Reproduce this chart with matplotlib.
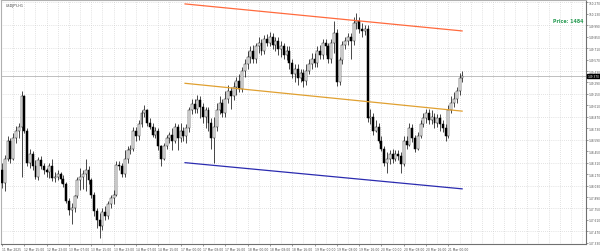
import numpy as np
import matplotlib.pyplot as plt

# USDJPY H1 candles (one value per bar)
symbol = 'USDJPY,H1'
opens = [148.22, 148.06, 148.36, 148.57, 148.36, 148.61, 148.70, 148.75, 149.12, 148.70,
         148.30, 148.42, 148.27, 148.14, 148.34, 148.27, 148.22, 148.19, 148.27, 148.12,
         148.14, 148.17, 148.11, 148.05, 147.84, 147.73, 147.75, 147.90, 148.10, 148.14,
         148.17, 148.22, 148.10, 147.91, 147.72, 147.61, 147.54, 147.71, 147.66, 147.80,
         147.88, 147.92, 148.28, 148.27, 148.17, 148.36, 148.46, 148.48, 148.70, 148.63,
         148.78, 148.92, 148.95, 148.80, 148.75, 148.65, 148.70, 148.51, 148.36, 148.51,
         148.61, 148.65, 148.58, 148.75, 148.61, 148.70, 148.63, 148.73, 148.95, 149.03,
         148.97, 149.07, 148.99, 148.87, 148.95, 148.79, 148.61, 148.75, 148.95, 149.04,
         148.92, 149.09, 149.19, 149.12, 149.24, 149.31, 149.21, 149.43, 149.51, 149.60,
         149.68, 149.58, 149.73, 149.77, 149.68, 149.82, 149.77, 149.85, 149.75, 149.80,
         149.70, 149.73, 149.63, 149.68, 149.53, 149.39, 149.46, 149.34, 149.41, 149.31,
         149.43, 149.51, 149.58, 149.53, 149.68, 149.63, 149.77, 149.73, 149.58, 149.77,
         149.90, 149.29, 149.56, 149.75, 149.80, 149.85, 149.80, 150.02, 150.04, 149.94,
         149.92, 149.94, 148.85, 148.87, 148.70, 148.75, 148.58, 148.48, 148.30, 148.36,
         148.41, 148.36, 148.41, 148.39, 148.29, 148.58, 148.53, 148.73, 148.61, 148.48,
         148.63, 148.78, 148.85, 148.92, 148.83, 148.87, 148.80, 148.85, 148.78, 148.73,
         148.63, 148.95, 149.04, 149.09, 149.19, 149.34]
highs = [148.30, 148.40, 148.63, 148.61, 148.67, 148.76, 148.80, 149.18, 149.14, 148.73,
         148.48, 148.45, 148.34, 148.38, 148.39, 148.30, 148.25, 148.31, 148.36, 148.19,
         148.22, 148.20, 148.16, 148.07, 147.88, 147.82, 147.92, 148.14, 148.24, 148.22,
         148.36, 148.27, 148.12, 147.95, 147.75, 147.69, 147.75, 147.78, 147.84, 147.92,
         147.97, 148.33, 148.33, 148.31, 148.46, 148.51, 148.53, 148.75, 148.75, 148.83,
         148.95, 149.02, 148.97, 148.85, 148.80, 148.75, 148.73, 148.53, 148.55, 148.65,
         148.69, 148.73, 148.79, 148.78, 148.80, 148.75, 148.78, 148.99, 149.09, 149.09,
         149.14, 149.12, 149.04, 148.99, 148.99, 148.85, 148.87, 149.04, 149.12, 149.09,
         149.19, 149.26, 149.24, 149.29, 149.36, 149.39, 149.48, 149.58, 149.68, 149.73,
         149.75, 149.77, 149.85, 149.82, 149.87, 149.88, 149.91, 149.90, 149.85, 149.85,
         149.80, 149.77, 149.73, 149.73, 149.58, 149.51, 149.51, 149.46, 149.46, 149.51,
         149.58, 149.65, 149.65, 149.73, 149.75, 149.82, 149.82, 149.77, 149.82, 150.04,
         149.94, 149.60, 149.80, 149.85, 149.90, 149.90, 150.09, 150.14, 150.09, 150.02,
         149.99, 149.99, 148.97, 148.92, 148.83, 148.80, 148.63, 148.51, 148.44, 148.46,
         148.48, 148.46, 148.46, 148.44, 148.63, 148.63, 148.80, 148.78, 148.65, 148.68,
         148.83, 148.92, 148.97, 148.97, 148.95, 148.92, 148.90, 148.90, 148.83, 148.78,
         149.02, 149.12, 149.17, 149.24, 149.41, 149.43]
lows = [148.00, 147.96, 148.33, 148.30, 148.34, 148.55, 148.61, 148.14, 148.67, 148.27,
        148.24, 148.22, 148.11, 148.10, 148.23, 148.17, 148.14, 148.12, 148.08, 148.07,
        148.10, 148.06, 148.01, 147.82, 147.67, 147.56, 147.71, 147.88, 147.97, 147.99,
        147.96, 148.05, 147.88, 147.66, 147.51, 147.39, 147.49, 147.61, 147.62, 147.75,
        147.80, 147.90, 148.22, 148.13, 148.14, 148.31, 148.42, 148.45, 148.58, 148.59,
        148.75, 148.87, 148.76, 148.72, 148.62, 148.61, 148.46, 148.27, 148.34, 148.48,
        148.55, 148.46, 148.55, 148.46, 148.56, 148.58, 148.55, 148.68, 148.90, 148.92,
        148.92, 148.85, 148.80, 148.73, 148.70, 148.48, 148.30, 148.70, 148.90, 148.87,
        148.87, 149.04, 148.97, 149.07, 149.14, 149.17, 149.17, 149.36, 149.46, 149.53,
        149.53, 149.53, 149.65, 149.63, 149.64, 149.73, 149.73, 149.70, 149.68, 149.63,
        149.60, 149.58, 149.56, 149.46, 149.34, 149.29, 149.26, 149.29, 149.24, 149.26,
        149.39, 149.46, 149.48, 149.48, 149.58, 149.58, 149.63, 149.53, 149.53, 149.65,
        149.25, 149.26, 149.51, 149.70, 149.75, 149.58, 149.75, 149.94, 149.90, 149.85,
        149.87, 148.81, 148.78, 148.65, 148.68, 148.55, 148.45, 148.27, 148.18, 148.29,
        148.31, 148.33, 148.34, 148.18, 148.27, 148.48, 148.51, 148.56, 148.44, 148.46,
        148.61, 148.75, 148.80, 148.78, 148.78, 148.73, 148.75, 148.70, 148.68, 148.58,
        148.61, 148.92, 148.99, 149.04, 149.14, 149.29]
closes = [148.06, 148.36, 148.57, 148.36, 148.61, 148.70, 148.75, 149.12, 148.70, 148.30,
          148.42, 148.27, 148.14, 148.34, 148.27, 148.22, 148.19, 148.27, 148.12, 148.14,
          148.17, 148.11, 148.05, 147.84, 147.73, 147.75, 147.90, 148.10, 148.14, 148.17,
          148.22, 148.10, 147.91, 147.72, 147.61, 147.54, 147.71, 147.66, 147.80, 147.88,
          147.92, 148.28, 148.27, 148.17, 148.36, 148.46, 148.48, 148.70, 148.63, 148.78,
          148.92, 148.95, 148.80, 148.75, 148.65, 148.70, 148.51, 148.36, 148.51, 148.61,
          148.65, 148.58, 148.75, 148.61, 148.70, 148.63, 148.73, 148.95, 149.03, 148.97,
          149.07, 148.99, 148.87, 148.95, 148.79, 148.61, 148.75, 148.95, 149.04, 148.92,
          149.09, 149.19, 149.12, 149.24, 149.31, 149.21, 149.43, 149.51, 149.60, 149.68,
          149.58, 149.73, 149.77, 149.68, 149.82, 149.77, 149.85, 149.75, 149.80, 149.70,
          149.73, 149.63, 149.68, 149.53, 149.39, 149.46, 149.34, 149.41, 149.31, 149.43,
          149.51, 149.58, 149.53, 149.68, 149.63, 149.77, 149.73, 149.58, 149.77, 149.90,
          149.29, 149.56, 149.75, 149.80, 149.85, 149.80, 150.02, 150.04, 149.94, 149.92,
          149.94, 148.85, 148.87, 148.70, 148.75, 148.58, 148.48, 148.30, 148.36, 148.41,
          148.36, 148.41, 148.39, 148.29, 148.58, 148.53, 148.73, 148.61, 148.48, 148.63,
          148.78, 148.85, 148.92, 148.83, 148.87, 148.80, 148.85, 148.78, 148.73, 148.63,
          148.95, 149.04, 149.09, 149.19, 149.34, 149.37]

date_labels = ['11 Mar 2025', '12 Mar 15:00', '12 Mar 23:00', '13 Mar 07:00', '13 Mar 15:00',
               '13 Mar 23:00', '14 Mar 07:00', '14 Mar 15:00', '17 Mar 00:00', '17 Mar 08:00',
               '17 Mar 16:00', '18 Mar 00:00', '18 Mar 08:00', '18 Mar 16:00', '19 Mar 00:00',
               '19 Mar 08:00', '19 Mar 16:00', '20 Mar 00:00', '20 Mar 08:00', '20 Mar 16:00',
               '21 Mar 00:00']
price_labels = [150.270, 150.130, 149.990, 149.850, 149.710, 149.570, 149.430, 149.290,
                149.150, 149.010, 148.870, 148.730, 148.590, 148.450, 148.310, 148.170,
                148.030, 147.890, 147.750, 147.610, 147.470, 147.330]

# drawn trend channel (bar index, price)
channel_bars = [65.6, 164.9]
upper_line = [150.25, 149.92]
middle_line = [149.28, 148.94]
lower_line = [148.31, 147.99]
info_text = 'Price: 1484'

fig = plt.figure(figsize=(6, 2.53), dpi=100)
ax = fig.add_axes([1 / 600, 8 / 253, 585 / 600, 244 / 253])

n = len(closes)
x = np.arange(n)
o = np.array(opens)
c = np.array(closes)
h = np.array(highs)
l = np.array(lows)
up = c >= o

# grid
for px in price_labels[::2]:
    ax.axhline(px, color='#c8c8c8', lw=0.5, ls=(0, (1, 2)), zorder=0)
for bx in range(4, 212, 4):
    ax.axvline(bx, color='#c8c8c8', lw=0.5, ls=(0, (1, 2)), zorder=0)

# current price line
ax.axhline(closes[-1], color='#b4b4b4', lw=0.6, zorder=1)

# candles
ax.vlines(x, l, h, color='black', lw=0.5, zorder=2)
body = np.maximum(np.abs(c - o), 0.008)
ax.bar(x[up], body[up], bottom=o[up], width=0.7, color='white',
       edgecolor='#202020', lw=0.35, zorder=3)
ax.bar(x[~up], body[~up], bottom=c[~up], width=0.7, color='black',
       edgecolor='black', lw=0.35, zorder=3)

# channel
ax.plot(channel_bars, upper_line, color='#ff6a3d', lw=0.9, zorder=4)
ax.plot(channel_bars, middle_line, color='#e0a030', lw=0.9, zorder=4)
ax.plot(channel_bars, lower_line, color='#2b2bb0', lw=0.9, zorder=4)

ax.set_xlim(-0.36, 209.3)
ax.set_ylim(147.316, 150.298)

ax.yaxis.tick_right()
ax.set_yticks(price_labels)
ax.set_yticklabels(['%.3f' % p for p in price_labels])
ax.set_xticks(np.arange(len(date_labels)) * 8)
ax.set_xticklabels(date_labels, ha='left')
ax.tick_params(axis='x', labelsize=2.2, colors='#505050', length=1.5, width=0.4, pad=0.6)
ax.tick_params(axis='y', labelsize=2.05, colors='#505050', length=1.2, width=0.4, pad=0.4)

for side in ['left', 'top']:
    ax.spines[side].set_color('#b0b0b0')
    ax.spines[side].set_linewidth(0.8)
for side in ['right', 'bottom']:
    ax.spines[side].set_color('#707070')
    ax.spines[side].set_linewidth(0.8)

# highlighted last price on the scale
ax.text(1.002, closes[-1], '%.3f' % closes[-1], transform=ax.get_yaxis_transform(),
        fontsize=2.05, color='white', va='center', ha='left', zorder=10,
        bbox=dict(boxstyle='square,pad=0.15', fc='black', ec='black'), clip_on=False)

ax.text(0.008, 0.988, symbol, transform=ax.transAxes, fontsize=2.4, color='#404040',
        va='top', ha='left')
ax.text(0.996, 0.916, info_text, transform=ax.transAxes, fontsize=3.4, color='#2a9d55',
        fontweight='bold', va='center', ha='right')

fig.savefig('out.png', dpi=100)
